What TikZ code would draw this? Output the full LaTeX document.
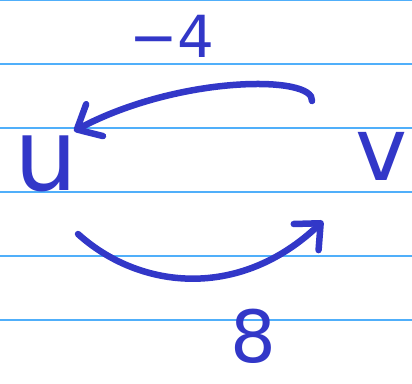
\documentclass[tikz,border=0pt]{standalone}
\usepackage{fontspec}
\setsansfont{DejaVu Sans}
\usetikzlibrary{arrows.meta}
\definecolor{ink}{RGB}{50,55,200}
\definecolor{rule}{RGB}{80,175,250}
\tikzset{
  x=1pt, y=-1pt,
  ruleline/.style={draw=rule, line width=1.3pt},
  lab/.style={text=ink, inner sep=0pt, font=\sffamily\fontsize{#1}{#1}\selectfont},
  edge/.style={draw=ink, line width=6.5pt, line cap=round,
    -{Straight Barb[length=20pt,width=36pt,line width=6.5pt,round]}}
}
\begin{document}
\begin{tikzpicture}
\useasboundingbox (0,0) rectangle (412,383);
\fill[white] (0,0) rectangle (412,383);
\foreach \yy in {0.6,64,128,192,256,320}
  \draw[ruleline] (0,\yy) -- (412,\yy);
\node[lab=100] (u) at (46,163) {u};
\node[lab=88] (v) at (382,156) {v};
\node[lab=58] (m4) at (172,36) {−4};
\node[lab=72] (e8) at (253,336) {8};
\coordinate (a1) at (312,101);
\coordinate (a2) at (74,131);
\coordinate (b1) at (78,234);
\coordinate (b2) at (323,221);
\draw[edge] (a1) .. controls (315,75) and (180,75) .. (a2);
\draw[edge] (b1) .. controls (140,290) and (240,300) .. (b2);
\end{tikzpicture}
\end{document}
